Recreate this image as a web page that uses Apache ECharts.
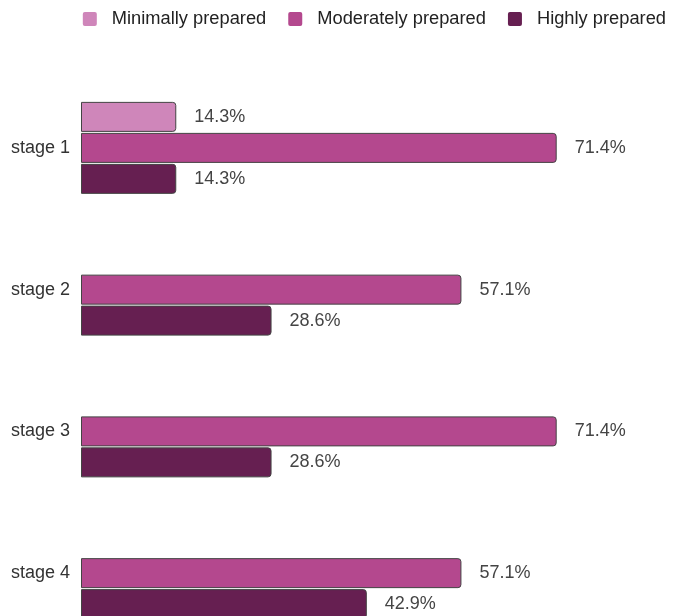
<!DOCTYPE html>
<html><head><meta charset="utf-8">
<script src="https://cdn.jsdelivr.net/npm/echarts@6/dist/echarts.min.js"></script>
<style>html,body{margin:0;padding:0;background:#fff}#c{width:674px;height:616px}</style>
</head><body><div id="c"></div>
<script>
const categories = ['stage 1', 'stage 2', 'stage 3', 'stage 4'];
const minimally = [14.3, null, null, null];
const moderately = [71.4, 57.1, 71.4, 57.1];
const highly = [14.3, 28.6, 28.6, 42.9];
const seriesNames = ['Minimally prepared', 'Moderately prepared', 'Highly prepared'];
const colors = ['#cf86ba', '#b4488e', '#661f51'];

const chart = echarts.init(document.getElementById('c'), null, {renderer: 'canvas'});
const font = '"Liberation Sans", Arial, Helvetica, sans-serif';
function mk(name, data, color) {
  return {
    name: name, type: 'bar', data: data, barWidth: 30, barGap: '3.3%',
    itemStyle: {color: color, borderColor: '#444', borderWidth: 1, borderRadius: [0, 3, 3, 0]},
    label: {show: true, position: 'right', distance: 18, color: '#444', fontSize: 18, fontFamily: font,
      formatter: p => p.value == null ? '' : p.value.toFixed(1) + '%'}
  };
}
chart.setOption({
  animation: false,
  textStyle: {fontFamily: font},
  color: colors,
  legend: {
    right: 3, top: 5, itemWidth: 14, itemHeight: 14, itemGap: 22,
    icon: 'path://M2,0 L12,0 Q14,0 14,2 L14,12 Q14,14 12,14 L2,14 Q0,14 0,12 L0,2 Q0,0 2,0 Z',
    itemStyle: {borderWidth: 0},
    textStyle: {fontSize: 18.3, color: '#222', fontFamily: font, padding: [0, 0, 0, 10]},
    data: seriesNames
  },
  grid: {left: 81, top: 77, right: 60, bottom: -28, containLabel: false, outerBoundsMode: 'none'},
  xAxis: {type: 'value', min: 0, max: 80, show: false},
  yAxis: {
    type: 'category', data: categories, inverse: true,
    axisLine: {show: false}, axisTick: {show: false},
    axisLabel: {fontSize: 18, color: '#333', margin: 11, fontFamily: font}
  },
  series: [mk(seriesNames[0], minimally, colors[0]), mk(seriesNames[1], moderately, colors[1]), mk(seriesNames[2], highly, colors[2])]
});
</script></body></html>
